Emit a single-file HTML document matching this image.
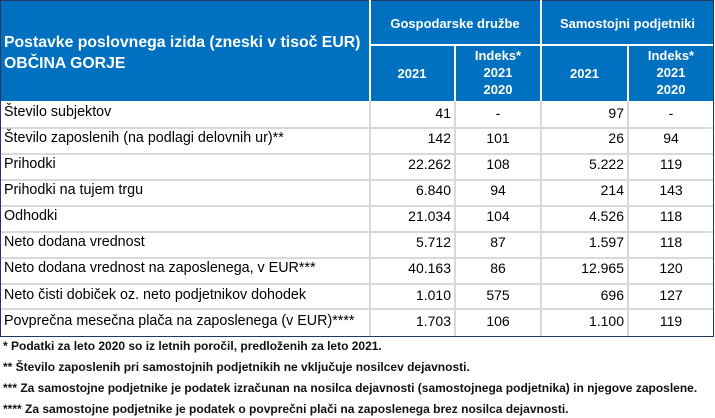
<!DOCTYPE html>
<html><head><meta charset="utf-8"><style>
body{margin:0;width:715px;height:418px;background:#fff;overflow:hidden;font-family:"Liberation Sans",sans-serif;position:relative}
div{position:absolute;box-sizing:border-box}
.hb{background:#0070C0}
.w{color:#fff;font-weight:bold}
.c{text-align:center}
.lab{left:4px;font-size:14.3px;color:#000;white-space:nowrap}
.n{font-size:14px;color:#000;text-align:right}
.i{font-size:14px;color:#000;text-align:center}
.fn{left:3px;font-size:12px;font-weight:bold;color:#111;white-space:nowrap;letter-spacing:0}
</style></head><body>
<div class="hb" style="left:0;top:0;width:714px;height:101px;border:1px solid #1f3864;border-bottom:none"></div>
<div style="left:369px;top:0;width:2px;height:101px;background:#fff"></div>
<div style="left:540px;top:0;width:2px;height:101px;background:#fff"></div>
<div style="left:370px;top:44px;width:343px;height:2px;background:#fff"></div>
<div style="left:454px;top:45px;width:2px;height:56px;background:#fff"></div>
<div style="left:627px;top:45px;width:2px;height:56px;background:#fff"></div>
<div class="w" style="left:4px;top:32px;font-size:15.8px;white-space:nowrap;line-height:21px">Postavke poslovnega izida (zneski v tisoč EUR)<br>OBČINA GORJE</div>
<div class="w c" style="left:370px;top:16px;width:170px;font-size:13px">Gospodarske družbe</div>
<div class="w c" style="left:542px;top:16px;width:171px;font-size:13px">Samostojni podjetniki</div>
<div class="w c" style="left:370px;top:66px;width:84px;font-size:13px">2021</div>
<div class="w c" style="left:456px;top:47px;width:84px;font-size:13px;line-height:17px">Indeks*<br>2021<br>2020</div>
<div class="w c" style="left:542px;top:66px;width:85px;font-size:13px">2021</div>
<div class="w c" style="left:629px;top:47px;width:84px;font-size:13px;line-height:17px">Indeks*<br>2021<br>2020</div>
<!-- body -->
<div style="left:0;top:101px;width:714px;height:236px;border:1px solid #1f3864;border-top:none"></div>
<div style="left:369px;top:101px;width:2px;height:235px;background:#d9d9d9"></div>
<div style="left:454px;top:101px;width:2px;height:235px;background:#d9d9d9"></div>
<div style="left:540px;top:101px;width:2px;height:235px;background:#d9d9d9"></div>
<div style="left:627px;top:101px;width:2px;height:235px;background:#d9d9d9"></div>
<div style="left:1px;top:127px;width:712px;height:2px;background:#d9d9d9"></div>
<div style="left:1px;top:153px;width:712px;height:2px;background:#d9d9d9"></div>
<div style="left:1px;top:179px;width:712px;height:2px;background:#d9d9d9"></div>
<div style="left:1px;top:205px;width:712px;height:2px;background:#d9d9d9"></div>
<div style="left:1px;top:231px;width:712px;height:2px;background:#d9d9d9"></div>
<div style="left:1px;top:257px;width:712px;height:2px;background:#d9d9d9"></div>
<div style="left:1px;top:283px;width:712px;height:2px;background:#d9d9d9"></div>
<div style="left:1px;top:308px;width:712px;height:2px;background:#d9d9d9"></div>

<div class="lab" style="top:104px">Število subjektov</div>
<div class="n" style="left:370px;width:81px;top:105px">41</div><div class="i" style="left:456px;width:84px;top:105px">-</div><div class="n" style="left:542px;width:82px;top:105px">97</div><div class="i" style="left:629px;width:84px;top:105px">-</div>
<div class="lab" style="top:130px">Število zaposlenih (na podlagi delovnih ur)**</div>
<div class="n" style="left:370px;width:81px;top:130px">142</div><div class="i" style="left:456px;width:84px;top:130px">101</div><div class="n" style="left:542px;width:82px;top:130px">26</div><div class="i" style="left:629px;width:84px;top:130px">94</div>
<div class="lab" style="top:156px">Prihodki</div>
<div class="n" style="left:370px;width:81px;top:156px">22.262</div><div class="i" style="left:456px;width:84px;top:156px">108</div><div class="n" style="left:542px;width:82px;top:156px">5.222</div><div class="i" style="left:629px;width:84px;top:156px">119</div>
<div class="lab" style="top:182px">Prihodki na tujem trgu</div>
<div class="n" style="left:370px;width:81px;top:182px">6.840</div><div class="i" style="left:456px;width:84px;top:182px">94</div><div class="n" style="left:542px;width:82px;top:182px">214</div><div class="i" style="left:629px;width:84px;top:182px">143</div>
<div class="lab" style="top:208px">Odhodki</div>
<div class="n" style="left:370px;width:81px;top:208px">21.034</div><div class="i" style="left:456px;width:84px;top:208px">104</div><div class="n" style="left:542px;width:82px;top:208px">4.526</div><div class="i" style="left:629px;width:84px;top:208px">118</div>
<div class="lab" style="top:234px">Neto dodana vrednost</div>
<div class="n" style="left:370px;width:81px;top:234px">5.712</div><div class="i" style="left:456px;width:84px;top:234px">87</div><div class="n" style="left:542px;width:82px;top:234px">1.597</div><div class="i" style="left:629px;width:84px;top:234px">118</div>
<div class="lab" style="top:260px">Neto dodana vrednost na zaposlenega, v EUR***</div>
<div class="n" style="left:370px;width:81px;top:260px">40.163</div><div class="i" style="left:456px;width:84px;top:260px">86</div><div class="n" style="left:542px;width:82px;top:260px">12.965</div><div class="i" style="left:629px;width:84px;top:260px">120</div>
<div class="lab" style="top:287px">Neto čisti dobiček oz. neto podjetnikov dohodek</div>
<div class="n" style="left:370px;width:81px;top:287px">1.010</div><div class="i" style="left:456px;width:84px;top:287px">575</div><div class="n" style="left:542px;width:82px;top:287px">696</div><div class="i" style="left:629px;width:84px;top:287px">127</div>
<div class="lab" style="top:313px">Povprečna mesečna plača na zaposlenega (v EUR)****</div>
<div class="n" style="left:370px;width:81px;top:313px">1.703</div><div class="i" style="left:456px;width:84px;top:313px">106</div><div class="n" style="left:542px;width:82px;top:313px">1.100</div><div class="i" style="left:629px;width:84px;top:313px">119</div>

<div class="fn" style="top:339px">* Podatki za leto 2020 so iz letnih poročil, predloženih za leto 2021.</div>
<div class="fn" style="top:360px">** Število zaposlenih pri samostojnih podjetnikih ne vključuje nosilcev dejavnosti.</div>
<div class="fn" style="top:381px">*** Za samostojne podjetnike je podatek izračunan na nosilca dejavnosti (samostojnega podjetnika) in njegove zaposlene.</div>
<div class="fn" style="top:402px">**** Za samostojne podjetnike je podatek o povprečni plači na zaposlenega brez nosilca dejavnosti.</div>
</body></html>
